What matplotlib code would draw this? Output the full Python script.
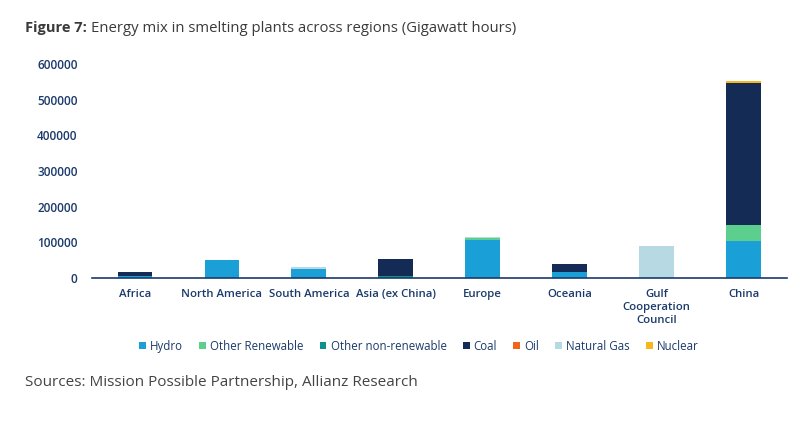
import numpy as np
import matplotlib.pyplot as plt

plt.rcParams['font.family'] = ['Open Sans', 'DejaVu Sans']

regions = ['Africa', 'North America', 'South America', 'Asia (ex China)',
           'Europe', 'Oceania', 'Gulf\nCooperation\nCouncil', 'China']

hydro = [7000, 51000, 24000, 0, 107000, 18000, 0, 104000]
other_renewable = [0, 0, 2000, 0, 6000, 0, 0, 45000]
other_nonrenewable = [0, 0, 0, 6500, 0, 0, 0, 0]
coal = [9000, 0, 0, 46500, 0, 20000, 0, 398000]
oil = [0, 0, 0, 0, 0, 0, 0, 0]
natural_gas = [0, 0, 5000, 0, 1500, 0, 90000, 0]
nuclear = [0, 0, 0, 0, 0, 0, 0, 5000]

series = [
    ('Hydro', hydro, '#1aa0d6'),
    ('Other Renewable', other_renewable, '#5ccf8e'),
    ('Other non-renewable', other_nonrenewable, '#0f918b'),
    ('Coal', coal, '#132b55'),
    ('Oil', oil, '#f0641e'),
    ('Natural Gas', natural_gas, '#b6d9e4'),
    ('Nuclear', nuclear, '#f5b91d'),
]

navy = '#1b3a6b'

fig = plt.figure(figsize=(8.1, 4.26), dpi=100)
ax = fig.add_axes([0.113, 0.3474, 0.8586, 0.5024])

x = np.arange(len(regions))
bottom = np.zeros(len(regions))
handles = []
for name, vals, color in series:
    vals = np.array(vals, dtype=float)
    b = ax.bar(x, vals, 0.4, bottom=bottom, color=color, label=name)
    handles.append(b)
    bottom += vals

ax.set_xlim(-0.5, len(regions) - 0.5)
ax.set_ylim(0, 600000)
ax.set_yticks(np.arange(0, 600001, 100000))
ax.set_yticklabels([str(v) for v in range(0, 600001, 100000)])
ax.set_xticks(x)
ax.set_xticklabels(regions, linespacing=1.25)

for s in ['top', 'right', 'left']:
    ax.spines[s].set_visible(False)
ax.spines['bottom'].set_color(navy)
ax.spines['bottom'].set_linewidth(1.2)
ax.tick_params(axis='both', length=0, colors=navy)
ax.tick_params(axis='y', pad=10, labelsize=8.5)
ax.tick_params(axis='x', pad=8, labelsize=8.2)
for lab in ax.get_xticklabels() + ax.get_yticklabels():
    lab.set_fontweight('semibold')

fig.legend(handles=handles, loc='center', bbox_to_anchor=(0.517, 0.187),
           ncol=7, frameon=False, fontsize=8.3, handlelength=0.6,
           handleheight=0.6, handletextpad=0.35, columnspacing=1.4,
           labelcolor=navy)

fig.text(0.031, 0.934, 'Figure 7:', fontsize=10.5, fontweight='bold',
         color='#3a3a3a', va='center')
fig.text(0.112, 0.934, 'Energy mix in smelting plants across regions (Gigawatt hours)',
         fontsize=10.7, color='#3a3a3a', va='center')
fig.text(0.031, 0.103, 'Sources: Mission Possible Partnership, Allianz Research',
         fontsize=11, color='#444444', va='center')

fig.savefig('out.png', dpi=100)
